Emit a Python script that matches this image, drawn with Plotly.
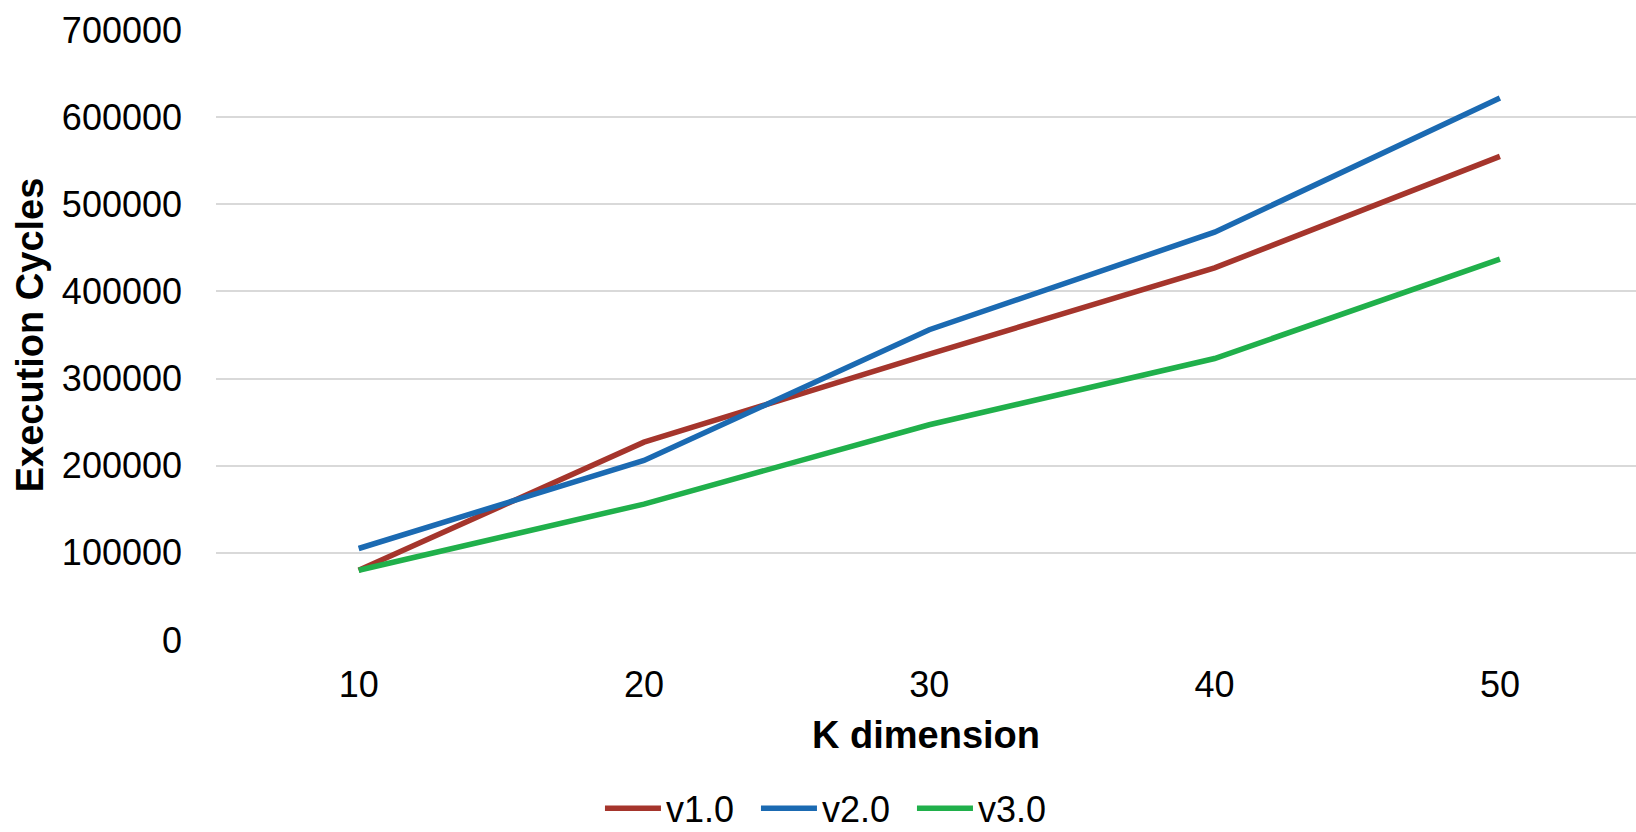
import plotly.graph_objects as go

k_dims = ["10", "20", "30", "40", "50"]
v1 = [80000, 227000, 328000, 427000, 555000]
v2 = [105000, 206000, 356000, 468000, 622000]
v3 = [80000, 156000, 247000, 323000, 437000]
series_names = ["v1.0", "v2.0", "v3.0"]
colors = ["#A5352C", "#1B6AB2", "#20B04B"]

fig = go.Figure()
for name, vals, col in zip(series_names, [v1, v2, v3], colors):
    fig.add_trace(go.Scatter(x=k_dims, y=vals, mode="lines", name=name,
                             line=dict(color=col, width=5.5)))

font_family = "Liberation Sans, Arial, sans-serif"
fig.update_layout(
    width=1636, height=832,
    margin=dict(l=216, r=0, t=30, b=192, autoexpand=False),
    paper_bgcolor="white", plot_bgcolor="white",
    font=dict(family=font_family, size=36, color="#000000"),
    showlegend=True,
    legend=dict(orientation="h", x=0.2704, xanchor="left", y=-0.276, yanchor="middle",
                font=dict(size=36), itemwidth=56, entrywidth=85, entrywidthmode="pixels",
                tracegroupgap=0, traceorder="normal"),
    xaxis=dict(type="category", range=[-0.5, 4.477], showgrid=False, showline=False,
               zeroline=False, ticks="", ticklabelstandoff=20, automargin=False,
               title=dict(text="<b>K dimension</b>", font=dict(size=38), standoff=17)),
    yaxis=dict(range=[0, 700000], dtick=100000, showgrid=True, gridcolor="#D9D9D9",
               gridwidth=2, zeroline=False, showline=False, ticks="", automargin=False,
               ticklabelstandoff=33, tickformat="d",
               title=dict(text="<b>Execution Cycles</b>", font=dict(size=38), standoff=6)),
)

fig.write_html("out.html")
